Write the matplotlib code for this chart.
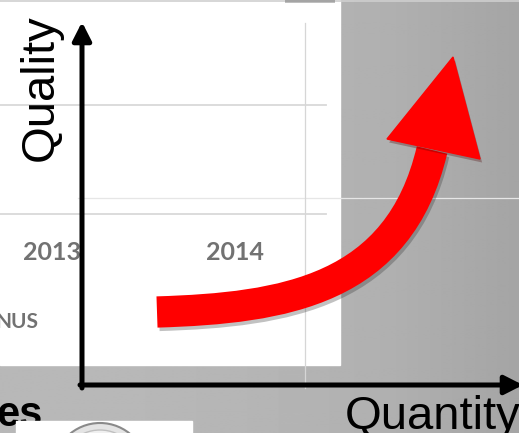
import matplotlib
matplotlib.use("Agg")
import matplotlib.pyplot as plt
import numpy as np
from matplotlib.path import Path
from matplotlib.patches import PathPatch, Polygon, Rectangle, Circle
import matplotlib.patheffects as pe

# slide content (pixel coordinates of the picture, y going down)
categories = ["2013", "2014"]
category_x = [52, 235]
category_y = 252
grid_y = [105, 214]
grid_x = [305]
# red growth arrow: bezier control points of the shaft and the head
curve_x = [157, 285, 399, 432]
curve_y = [312, 308, 290, 150]
head_x = [453, 387, 480]
head_y = [57, 139, 159]
# gray shades of the background photo (left -> right)
shade = [0.72, 0.72, 0.71, 0.69, 0.645]

fig = plt.figure(figsize=(5.19, 4.33), dpi=100)
ax = fig.add_axes([0, 0, 1, 1])
ax.set_xlim(0, 519)
ax.set_ylim(433, 0)
ax.axis("off")

# background gradient
xs = np.linspace(0, 519, 520)
g = np.interp(xs, np.linspace(0, 519, len(shade)), shade)
img = np.tile(g, (10, 1))
ax.imshow(img, cmap="gray", vmin=0, vmax=1, extent=[0, 519, 433, 0], aspect="auto", zorder=0)

# white slide panel
ax.add_patch(Rectangle((0, 0), 340, 365, color="white", zorder=1))
ax.plot([0, 519], [1, 1], color="#cfcfcf", lw=1.2, zorder=2)
ax.add_patch(Rectangle((285, -6), 50, 9, color="#9a9a9a", alpha=0.5, zorder=2,
                       path_effects=[pe.SimplePatchShadow(offset=(0, 0), alpha=0.3)]))

for y in grid_y:
    ax.plot([0, 326], [y, y], color="#d9d9d9", lw=1.3, zorder=2)
ax.plot([78, 519], [198, 198], color="#e6e6e6", lw=0.9, zorder=2)
for x in grid_x:
    ax.plot([x, x], [23, 388], color="#d6d6d6", lw=0.9, zorder=2)

for c, x in zip(categories, category_x):
    ax.text(x, category_y, c, fontsize=18, color="#727272", family="Lato",
            fontweight="bold", ha="center", va="center", zorder=3)
ax.text(38, 322, "NUS", fontsize=15, color="#727272", family="Lato",
        fontweight="bold", ha="right", va="center", zorder=3)

# bottom left bits of the slide behind
ax.text(-4, 426, "es", fontsize=30, fontweight="bold", color="black",
        family="Liberation Sans", ha="left", va="baseline", zorder=3)
ax.add_patch(Rectangle((16, 421), 176, 20, color="white", zorder=4))
ax.add_patch(Circle((100, 470), 47, facecolor="#e4e4e4", edgecolor="#8a8a8a", lw=1.5, zorder=5))
ax.add_patch(Circle((100, 470), 40, facecolor="#f0f0f0", edgecolor="#c0c0c0", lw=1, zorder=5))

# axes with arrows
ax.annotate("", xy=(82, 22), xytext=(82, 388), annotation_clip=False,
            arrowprops=dict(arrowstyle="-|>,head_length=0.55,head_width=0.28",
                            lw=3.6, color="black", mutation_scale=20, shrinkA=0, shrinkB=0),
            zorder=6)
ax.annotate("", xy=(523, 385), xytext=(80, 385), annotation_clip=False,
            arrowprops=dict(arrowstyle="-|>,head_length=0.55,head_width=0.28",
                            lw=3.6, color="black", mutation_scale=20, shrinkA=0, shrinkB=0),
            zorder=6)

ax.text(41, 88, "Quality", rotation=90, fontsize=34, family="Liberation Sans",
        color="black", ha="center", va="center", zorder=6)
ax.text(345, 429, "Quantity", fontsize=34, family="Liberation Sans",
        color="black", ha="left", va="baseline", zorder=6)

# red arrow
shadow = [pe.SimpleLineShadow(offset=(1.5, -2.5), alpha=0.3, shadow_color="#333333"), pe.Normal()]
verts = list(zip(curve_x, curve_y))
shaft = Path(verts, [Path.MOVETO, Path.CURVE4, Path.CURVE4, Path.CURVE4])
ax.add_patch(PathPatch(shaft, facecolor="none", edgecolor="#ff0000", lw=22.5,
                       capstyle="butt", zorder=7, path_effects=shadow))
ax.add_patch(Polygon(list(zip(head_x, head_y)), closed=True, color="#ff0000", zorder=8,
                     path_effects=[pe.SimplePatchShadow(offset=(1.5, -2.5), alpha=0.3), pe.Normal()]))

fig.savefig("out.png", dpi=100)
